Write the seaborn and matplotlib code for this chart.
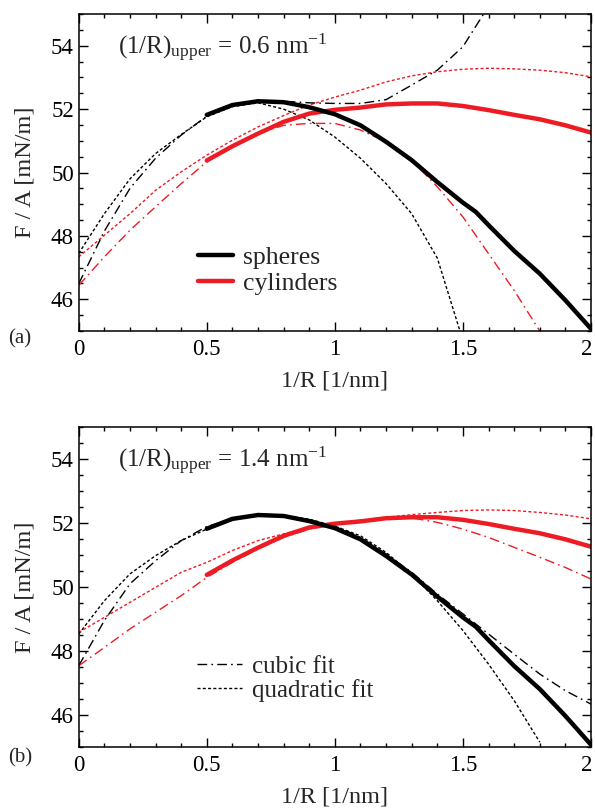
import numpy as np
import pandas as pd
import matplotlib
matplotlib.use("Agg")
import matplotlib.pyplot as plt
import matplotlib.transforms as mtransforms
from matplotlib.lines import Line2D
from matplotlib.ticker import MultipleLocator
import seaborn as sns

sns.set_style("ticks", {"xtick.direction": "in", "ytick.direction": "in"})
plt.rcParams["font.family"] = ["Liberation Serif", "DejaVu Serif"]
plt.rcParams["mathtext.fontset"] = "custom"
plt.rcParams["mathtext.rm"] = "Liberation Serif"
plt.rcParams["mathtext.it"] = "Liberation Serif:italic"

# ---------------- data ----------------
x_sph = [0.5, 0.6, 0.7, 0.8, 0.9, 1.0, 1.1, 1.2, 1.3, 1.4, 1.5, 1.55, 1.6, 1.7, 1.8, 1.9, 2.0]
spheres = [51.82, 52.13, 52.25, 52.22, 52.06, 51.84, 51.49, 50.97, 50.39, 49.70, 49.05, 48.76,
           48.34, 47.53, 46.81, 45.97, 45.07]

x_cyl = [0.5, 0.6, 0.7, 0.8, 0.9, 1.0, 1.1, 1.2, 1.3, 1.4, 1.5, 1.6, 1.7, 1.8, 1.9, 2.0]
cylinders = [50.38, 50.83, 51.23, 51.60, 51.86, 51.98, 52.05, 52.15, 52.18, 52.18, 52.10,
             51.97, 51.82, 51.68, 51.49, 51.26]

x_fit = [0.0, 0.1, 0.2, 0.3, 0.4, 0.5, 0.6, 0.7, 0.8, 0.9, 1.0,
         1.1, 1.2, 1.3, 1.4, 1.5, 1.6, 1.7, 1.8, 1.9, 2.0]
nan = np.nan

# (1/R)_upper = 0.6 nm^-1
sph_cubic_a = [46.49, 48.15, 49.50, 50.45, 51.18, 51.78, 52.13, 52.25, 52.25, 52.20, 52.18,
               52.18, 52.30, 52.76, 53.23, 53.97, 55.25, nan, nan, nan, nan]
sph_quad_a = [47.45, 48.70, 49.80, 50.60, 51.20, 51.76, 52.08, 52.20, 52.00, 51.66, 51.12,
              50.45, 49.65, 48.70, 47.30, 44.70, nan, nan, nan, nan, nan]
cyl_cubic_a = [46.44, 47.34, 48.18, 48.92, 49.65, 50.34, 50.86, 51.23, 51.49, 51.55, 51.55,
               51.34, 50.97, 50.39, 49.55, 48.60, 47.44, 46.28, 45.00, nan, nan]
cyl_quad_a = [47.34, 48.02, 48.70, 49.44, 50.02, 50.55, 51.02, 51.44, 51.80, 52.13, 52.38,
              52.60, 52.86, 53.05, 53.18, 53.26, 53.29, 53.27, 53.23, 53.15, 53.02]

# (1/R)_upper = 1.4 nm^-1
sph_cubic_b = [47.54, 48.95, 50.10, 50.82, 51.45, 51.89, 52.13, 52.25, 52.23, 52.10, 51.92,
               51.55, 51.03, 50.46, 49.78, 49.16, 48.53, 47.90, 47.28, 46.76, 46.34]
sph_quad_b = [48.53, 49.57, 50.41, 50.98, 51.45, 51.81, 52.10, 52.25, 52.23, 52.12, 51.90,
              51.60, 51.08, 50.41, 49.57, 48.64, 47.59, 46.45, 45.15, nan, nan]
cyl_cubic_b = [47.54, 48.11, 48.69, 49.21, 49.73, 50.30, 50.77, 51.19, 51.55, 51.81, 51.97,
               52.09, 52.18, 52.16, 52.02, 51.81, 51.55, 51.24, 50.93, 50.61, 50.25]
cyl_quad_b = [48.58, 49.05, 49.52, 49.99, 50.46, 50.77, 51.14, 51.45, 51.66, 51.86, 51.99,
              52.07, 52.18, 52.26, 52.33, 52.39, 52.41, 52.39, 52.33, 52.25, 52.13]

x_ticks = [0, 0.5, 1, 1.5, 2]
x_ticklabels = ["0", "0.5", "1", "1.5", "2"]
y_ticks = [46, 48, 50, 52, 54]

# ---------------- style ----------------
RED = "#ed1c24"
BLACK = "#000000"
THICK = 3.2
THIN = 1.0
DASHDOT = (0, (7, 3, 1.2, 3))
DASHED = (0, (2.2, 1.6))

fig = plt.figure(figsize=(5.95, 8.08), dpi=100)
ax_a = fig.add_axes([0.1323, 0.5903, 0.861, 0.3923])
ax_b = fig.add_axes([0.1323, 0.0755, 0.861, 0.3960])


def draw(ax, sc, sq, cc, cq):
    df_fit = pd.DataFrame({"x": x_fit, "sc": sc, "sq": sq, "cc": cc, "cq": cq})
    for col, color, ls in [("sq", BLACK, DASHED), ("cq", RED, DASHED),
                           ("sc", BLACK, DASHDOT), ("cc", RED, DASHDOT)]:
        d = df_fit[["x", col]].dropna()
        sns.lineplot(x=d["x"], y=d[col], ax=ax, color=color, lw=THIN,
                     linestyle=ls, legend=False, estimator=None)
    sns.lineplot(x=x_cyl, y=cylinders, ax=ax, color=RED, lw=THICK,
                 legend=False, estimator=None)
    sns.lineplot(x=x_sph, y=spheres, ax=ax, color=BLACK, lw=THICK,
                 legend=False, estimator=None)

    ax.set_xlim(0, 2)
    ax.set_ylim(45, 55)
    ax.set_xticks(x_ticks)
    ax.set_xticklabels(x_ticklabels)
    ax.set_yticks(y_ticks)
    ax.xaxis.set_minor_locator(MultipleLocator(0.1))
    ax.yaxis.set_minor_locator(MultipleLocator(0.5))
    ax.tick_params(which="both", direction="in", top=True, right=True,
                   width=1.0, colors="black", labelsize=16.5)
    ax.tick_params(axis="x", which="both", pad=6)
    ax.tick_params(axis="y", which="both", pad=3.5)
    ax.tick_params(which="major", length=6.5)
    ax.tick_params(which="minor", length=3.2)
    for s in ax.spines.values():
        s.set_linewidth(1.1)
        s.set_color("black")
    ax.set_xlabel("1/R [1/nm]", fontsize=17.5)
    ax.set_ylabel("F / A [mN/m]", fontsize=17.5)
    ax.xaxis.set_label_coords(0.5, -0.125)
    ax.yaxis.set_label_coords(-0.085, 0.5)
    # keep the last tick label ("2") inside the figure edge
    last = ax.get_xticklabels()[-1]
    last.set_transform(last.get_transform() +
                       mtransforms.ScaledTranslation(-4 / 100, 0, fig.dpi_scale_trans))


draw(ax_a, sph_cubic_a, sph_quad_a, cyl_cubic_a, cyl_quad_a)
draw(ax_b, sph_cubic_b, sph_quad_b, cyl_cubic_b, cyl_quad_b)

ax_a.text(0.153, 53.73, r"(1/R)$_{\mathregular{upper}}$ = 0.6 nm$^{\mathregular{-1}}$",
          fontsize=18, va="baseline", ha="left")
ax_b.text(0.153, 53.73, r"(1/R)$_{\mathregular{upper}}$ = 1.4 nm$^{\mathregular{-1}}$",
          fontsize=18, va="baseline", ha="left")

h_a = [Line2D([], [], color=BLACK, lw=THICK), Line2D([], [], color=RED, lw=THICK)]
ax_a.legend(h_a, ["spheres", "cylinders"], loc="center left",
            bbox_to_anchor=(0.233, 0.192), frameon=False, fontsize=18.5,
            handlelength=1.36, handletextpad=0.39, labelspacing=0.13, borderpad=0,
            borderaxespad=0)

h_b = [Line2D([], [], color=BLACK, lw=THIN, linestyle=DASHDOT),
       Line2D([], [], color=BLACK, lw=THIN, linestyle=DASHED)]
ax_b.legend(h_b, ["cubic fit", "quadratic fit"], loc="center left",
            bbox_to_anchor=(0.231, 0.214), frameon=False, fontsize=18,
            handlelength=1.8, handletextpad=0.4, labelspacing=0.04, borderpad=0,
            borderaxespad=0)

fig.text(20 / 595, 1 - 339 / 808, "(a)", fontsize=15, ha="center", va="center")
fig.text(20 / 595, 1 - 758 / 808, "(b)", fontsize=15, ha="center", va="center")

fig.savefig("out.png", dpi=100)
